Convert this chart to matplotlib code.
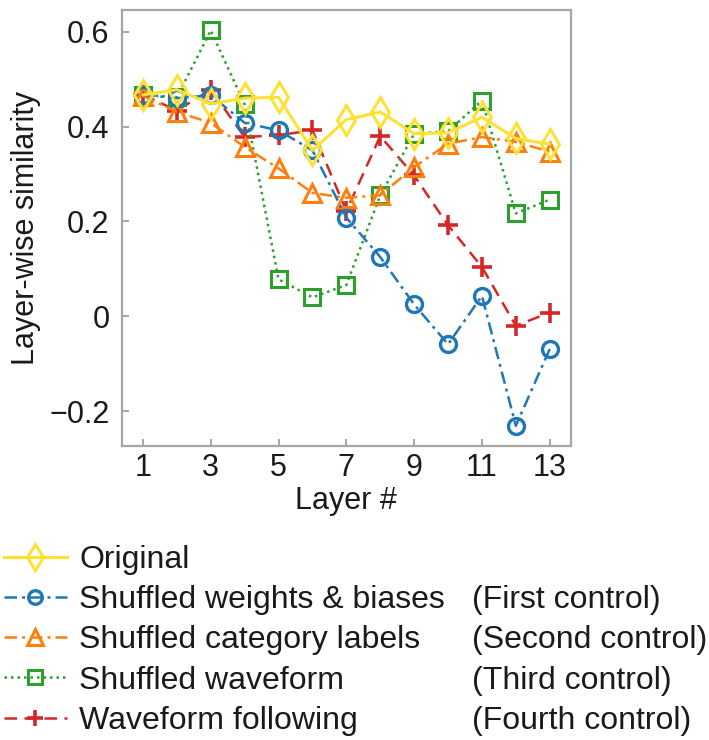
import matplotlib
matplotlib.use("Agg")
import matplotlib.pyplot as plt

plt.rcParams['font.family'] = ['Liberation Sans', 'DejaVu Sans']

layers = list(range(1, 14))

original = [0.467, 0.478, 0.448, 0.460, 0.462, 0.350, 0.415, 0.431, 0.385, 0.387, 0.420, 0.375, 0.363]
shuffled_weights = [0.467, 0.460, 0.466, 0.408, 0.392, 0.350, 0.208, 0.125, 0.025, -0.059, 0.043, -0.231, -0.069]
shuffled_labels = [0.465, 0.431, 0.408, 0.357, 0.312, 0.260, 0.250, 0.255, 0.315, 0.364, 0.378, 0.368, 0.347]
shuffled_waveform = [0.467, 0.462, 0.603, 0.447, 0.078, 0.040, 0.066, 0.255, 0.385, 0.390, 0.455, 0.217, 0.246]
waveform_following = [0.467, 0.434, 0.478, 0.378, 0.382, 0.392, 0.222, 0.380, 0.297, 0.192, 0.104, -0.020, 0.008]

names = ['Original', 'Shuffled weights & biases', 'Shuffled category labels',
         'Shuffled waveform', 'Waveform following']
controls = ['', '(First control)', '(Second control)', '(Third control)', '(Fourth control)']

fig = plt.figure(figsize=(7.09, 7.40), dpi=100)
ax = fig.add_axes([0.172, 0.397, 0.633, 0.5895])

lw = 1.8
ax.plot(layers, waveform_following, color='#d62728', ls=(0, (5, 3)), lw=lw,
        marker='+', ms=14, mew=2.6, label=names[4], zorder=3)
ax.plot(layers, shuffled_waveform, color='#2ca02c', ls=(0, (1, 1.6)), lw=lw,
        marker='s', ms=11.5, mew=2.2, mfc='none', label=names[3], zorder=4)
ax.plot(layers, shuffled_labels, color='#ff7f0e', ls=(0, (5, 2, 1.2, 2)), lw=lw,
        marker='^', ms=13, mew=2.2, mfc='none', label=names[2], zorder=5)
ax.plot(layers, shuffled_weights, color='#1f77b4', ls=(0, (5, 2, 1.2, 2)), lw=lw,
        marker='o', ms=11.5, mew=2.4, mfc='none', label=names[1], zorder=6)
ax.plot(layers, original, color='#ffe135', ls='-', lw=2.2,
        marker='d', ms=15, mew=2.2, mfc='none', label=names[0], zorder=7)

ax.set_xlim(0.38, 13.62)
ax.set_ylim(-0.274, 0.646)
ax.set_xticks([1, 3, 5, 7, 9, 11, 13])
ax.set_yticks([-0.2, 0, 0.2, 0.4, 0.6])
ax.set_yticklabels(['\u22120.2', '0', '0.2', '0.4', '0.6'])

for s in ax.spines.values():
    s.set_color('#a6a6a6')
    s.set_linewidth(1.6)
ax.tick_params(axis='both', direction='in', length=5, width=1.4, color='#a6a6a6',
               labelsize=22, labelcolor='#1a1a1a')
ax.tick_params(axis='y', pad=9)
ax.tick_params(axis='x', pad=5)
ax.set_xlabel('Layer #', fontsize=22, color='#1a1a1a', labelpad=2)
ax.set_ylabel('Layer-wise similarity', fontsize=22, color='#1a1a1a', labelpad=6)

handles, labels = ax.get_legend_handles_labels()
order = [labels.index(n) for n in names]
leg = fig.legend([handles[i] for i in order], [labels[i] for i in order],
                 loc='upper left', bbox_to_anchor=(0.005, 0.2635), frameon=False,
                 fontsize=23, handlelength=2.0, handletextpad=0.37,
                 labelspacing=0.32, borderpad=0, borderaxespad=0, markerscale=0.85)
for t in leg.get_texts():
    t.set_color('#1a1a1a')

# second column of the legend: which control each series is
fig.canvas.draw()
H = fig.get_figheight() * fig.dpi
for t, c in zip(leg.get_texts(), controls):
    if not c:
        continue
    bb = t.get_window_extent()
    yc = (bb.y0 + bb.y1) / 2 / H
    fig.text(472 / 709, yc, c, fontsize=23, va='center', ha='left', color='#1a1a1a')

fig.savefig('out.png', dpi=100)
